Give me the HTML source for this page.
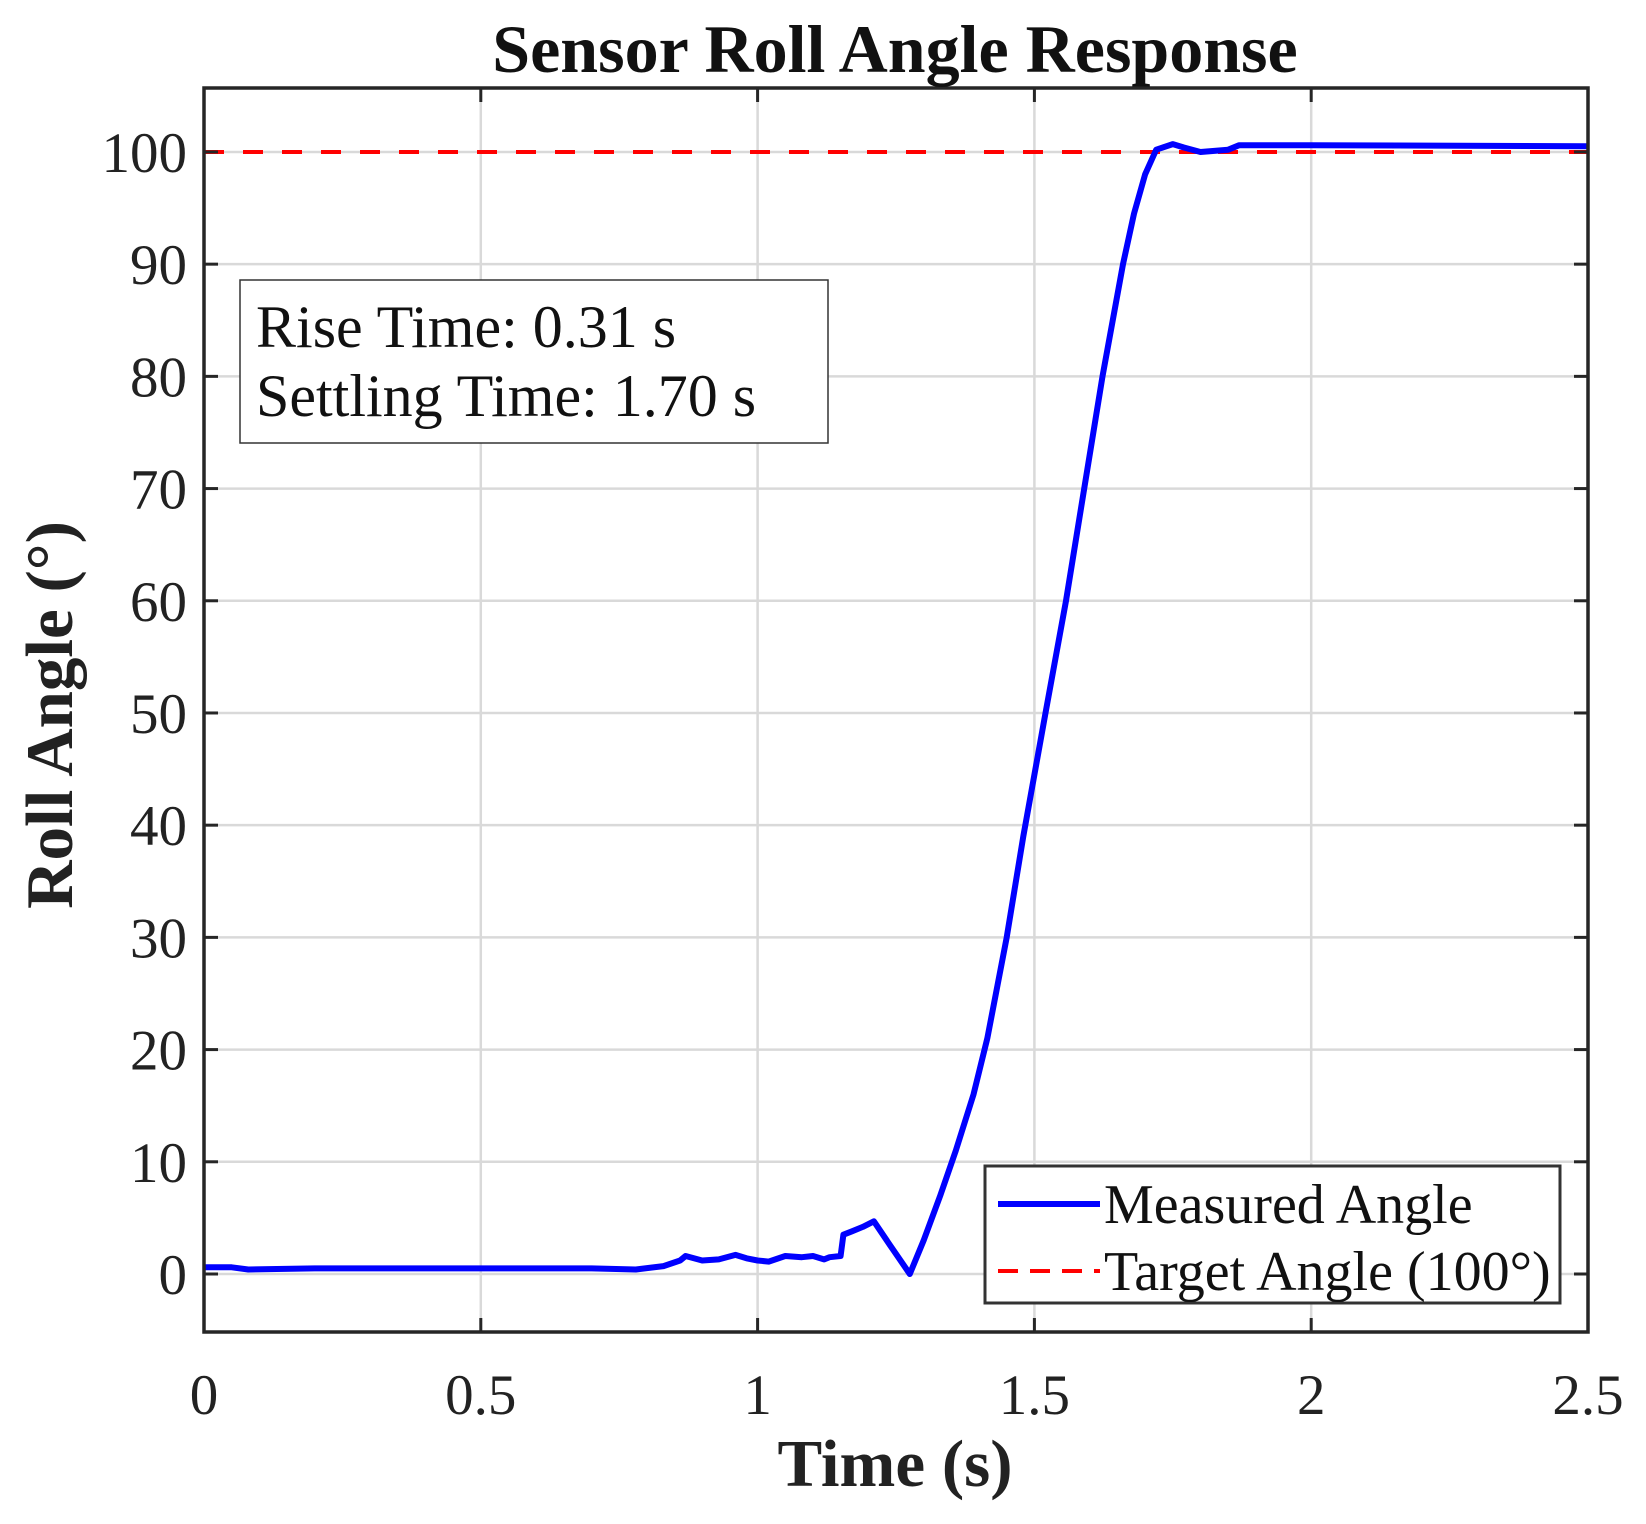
<!DOCTYPE html>
<html><head><meta charset="utf-8"><style>
html,body{margin:0;padding:0;background:#fff;}
svg{display:block;font-family:"Liberation Serif",serif;}
</style></head><body>
<svg id="chart" width="1646" height="1524" viewBox="0 0 1646 1524">
<rect width="1646" height="1524" fill="#fff"/>
<g id="grid"></g>
<g id="series"></g>
<g id="axes"></g>
<text x="895" y="72" text-anchor="middle" font-size="68" font-weight="bold" fill="#111">Sensor Roll Angle Response</text>
<text x="895" y="1486" text-anchor="middle" font-size="67" font-weight="bold" fill="#222">Time (s)</text>
<text transform="translate(72,715) rotate(-90)" text-anchor="middle" font-size="67" font-weight="bold" fill="#222">Roll Angle (°)</text>
<g>
<rect x="240" y="280" width="588" height="163" fill="#fff" stroke="#333" stroke-width="1.5"/>
<text x="256" y="347" font-size="60" fill="#111">Rise Time: 0.31 s</text>
<text x="256" y="416" font-size="60" fill="#111">Settling Time: 1.70 s</text>
</g>
<g>
<rect x="985" y="1166" width="575" height="137" fill="#fff" stroke="#333" stroke-width="3"/>
<line x1="998" y1="1204" x2="1100" y2="1204" stroke="#0000ff" stroke-width="6"/>
<text x="1104" y="1223" font-size="56" fill="#111">Measured Angle</text>
<line x1="998" y1="1271" x2="1100" y2="1271" stroke="#ff0000" stroke-width="4" stroke-dasharray="20,12"/>
<text x="1104" y="1290" font-size="56" fill="#111">Target Angle (100°)</text>
</g>
</svg>
<script>
const xTicks = [0, 0.5, 1, 1.5, 2, 2.5];
const xTickLabels = ["0", "0.5", "1", "1.5", "2", "2.5"];
const yTicks = [0, 10, 20, 30, 40, 50, 60, 70, 80, 90, 100];
const yTickLabels = ["0", "10", "20", "30", "40", "50", "60", "70", "80", "90", "100"];
const timeValues = [0, 0.05, 0.08, 0.2, 0.5, 0.7, 0.78, 0.83, 0.86, 0.87, 0.9, 0.93, 0.96, 0.98, 1.0, 1.02, 1.05, 1.08, 1.1, 1.12, 1.13, 1.15, 1.155, 1.17, 1.19, 1.21, 1.24, 1.275, 1.3, 1.33, 1.358, 1.39, 1.415, 1.45, 1.48, 1.52, 1.557, 1.59, 1.623, 1.66, 1.68, 1.7, 1.72, 1.75, 1.77, 1.8, 1.85, 1.87, 2.0, 2.5];
const angleValues = [0.6, 0.6, 0.4, 0.5, 0.5, 0.5, 0.4, 0.7, 1.2, 1.6, 1.2, 1.3, 1.7, 1.4, 1.2, 1.1, 1.6, 1.5, 1.6, 1.3, 1.5, 1.6, 3.5, 3.8, 4.2, 4.7, 2.5, 0, 3, 7, 11, 16, 21, 30, 39, 50, 60, 70, 80, 90, 94.5, 98, 100.2, 100.7, 100.4, 100, 100.2, 100.6, 100.6, 100.5];
const targetValue = 100;

const X0 = 204, X1 = 1588, Y0 = 1332, Y1 = 88;
const xMin = 0, xMax = 2.5, yMin = -5.17, yMax = 105.7;
const sx = v => X0 + (v - xMin) / (xMax - xMin) * (X1 - X0);
const sy = v => Y0 - (v - yMin) / (yMax - yMin) * (Y0 - Y1);
const NS = "http://www.w3.org/2000/svg";
function mk(tag, attrs, parent) {
  const e = document.createElementNS(NS, tag);
  for (const k in attrs) e.setAttribute(k, attrs[k]);
  parent.appendChild(e);
  return e;
}
const grid = document.getElementById("grid");
const axes = document.getElementById("axes");
const series = document.getElementById("series");

xTicks.forEach((t, i) => {
  const g = mk("line", {x1: sx(t), x2: sx(t), y1: Y1, y2: Y0, stroke: "#d9d9d9", "stroke-width": 2.5}, grid);
  
  
  const tk = mk("line", {x1: sx(t), x2: sx(t), y1: Y0, y2: Y0 - 14, stroke: "#262626", "stroke-width": 3}, axes);
  
  
  const tk2 = mk("line", {x1: sx(t), x2: sx(t), y1: Y1, y2: Y1 + 14, stroke: "#262626", "stroke-width": 3}, axes);
  
  
  const lb = mk("text", {x: sx(t), y: 1414, "text-anchor": "middle", "font-size": 57, fill: "#222"}, axes);
  lb.textContent = xTickLabels[i];
  
  
});
yTicks.forEach((t, i) => {
  const g = mk("line", {x1: X0, x2: X1, y1: sy(t), y2: sy(t), stroke: "#d9d9d9", "stroke-width": 2.5}, grid);
  
  
  const tk = mk("line", {x1: X0, x2: X0 + 14, y1: sy(t), y2: sy(t), stroke: "#262626", "stroke-width": 3}, axes);
  
  
  const tk2 = mk("line", {x1: X1, x2: X1 - 14, y1: sy(t), y2: sy(t), stroke: "#262626", "stroke-width": 3}, axes);
  
  
  const lb = mk("text", {x: 187, y: sy(t) + 20, "text-anchor": "end", "font-size": 57, fill: "#222"}, axes);
  lb.textContent = yTickLabels[i];
  
  
});
const frame = mk("rect", {x: X0, y: Y1, width: X1 - X0, height: Y0 - Y1, fill: "none", stroke: "#262626", "stroke-width": 3.5}, axes);



const tl = mk("line", {x1: X0, x2: X1, y1: sy(targetValue), y2: sy(targetValue), stroke: "#ff0000", "stroke-width": 4, "stroke-dasharray": "20,19"}, series);


const d = timeValues.map((t, i) => (i ? "L" : "M") + sx(t).toFixed(1) + "," + sy(angleValues[i]).toFixed(1)).join(" ");
const ml = mk("path", {d: d, fill: "none", stroke: "#0000ff", "stroke-width": 6, "stroke-linejoin": "round"}, series);


</script>
</body></html>
